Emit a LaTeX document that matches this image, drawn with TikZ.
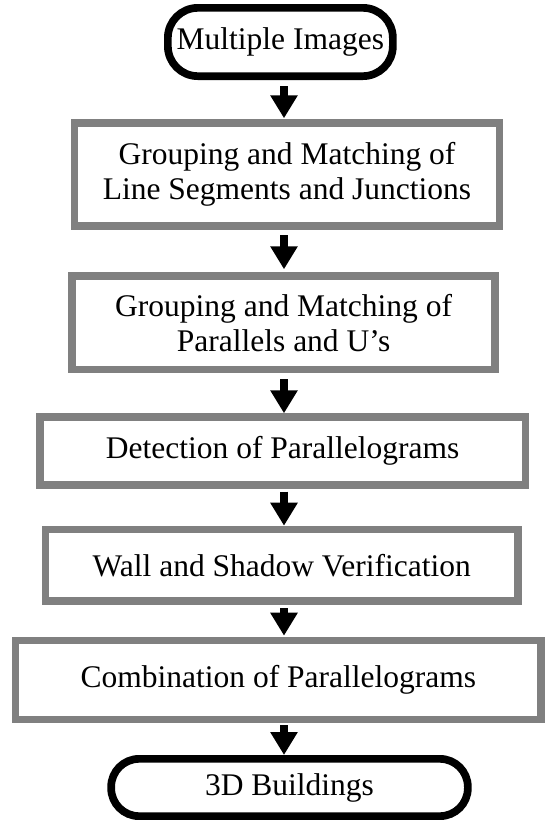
\documentclass[tikz,border=0pt]{standalone}
\usepackage{fontspec}
\setmainfont{Liberation Serif}
\usetikzlibrary{arrows.meta,calc}
\definecolor{boxgray}{RGB}{128,128,128}
\begin{document}
\begin{tikzpicture}[x=1pt,y=-1pt,
  txt/.style={inner sep=0pt, align=center, font=\fontsize{31.5}{35}\selectfont},
  proc/.style={txt, draw=boxgray, line width=7.7pt, fill=white},
  term/.style={txt, draw=black, line width=7.7pt, fill=white, rounded corners=30pt},
  arr/.style={line width=7.5pt, -{Triangle[width=26pt,length=23pt]}}]
\useasboundingbox (0,0) rectangle (545,820);
\node[term, minimum width=225pt, minimum height=68.3pt] (t1) at (280.35,42) {Multiple Images};
\node[proc, minimum width=424.9pt, minimum height=103pt] (b1) at (287,174.65) {Grouping and Matching of\\Line Segments and Junctions};
\node[proc, minimum width=423pt, minimum height=93.3pt] (b2) at (283.65,322.8) {Grouping and Matching of\\Parallels and U’s};
\node[proc, minimum width=485.6pt, minimum height=67.7pt] (b3) at (282.65,451) {Detection of Parallelograms};
\node[proc, minimum width=472.3pt, minimum height=71.6pt] (b4) at (281.7,565.35) {Wall and Shadow Verification};
\node[proc, minimum width=525.6pt, minimum height=78.9pt] (b5) at (278.35,680) {Combination of Parallelograms};
\node[term, minimum width=356.7pt, minimum height=57.3pt, rounded corners=28pt] (t2) at (289.5,787.5) {3D Buildings};
\coordinate (ax) at (284,0);
\draw[arr] ($(t1.south -| ax)+(0,6)$) -- ($(b1.north -| ax)+(0,-1)$);
\draw[arr] ($(b1.south -| ax)+(0,5)$) -- ($(b2.north -| ax)+(0,-3)$);
\draw[arr] ($(b2.south -| ax)+(0,6)$) -- ($(b3.north -| ax)+(0,0)$);
\draw[arr] ($(b3.south -| ax)+(0,3)$) -- ($(b4.north -| ax)+(0,0)$);
\draw[arr] ($(b4.south -| ax)+(0,3)$) -- ($(b5.north -| ax)+(0,-1)$);
\draw[arr] ($(b5.south -| ax)+(0,2)$) -- ($(t2.north -| ax)+(0,0)$);
\end{tikzpicture}
\end{document}
